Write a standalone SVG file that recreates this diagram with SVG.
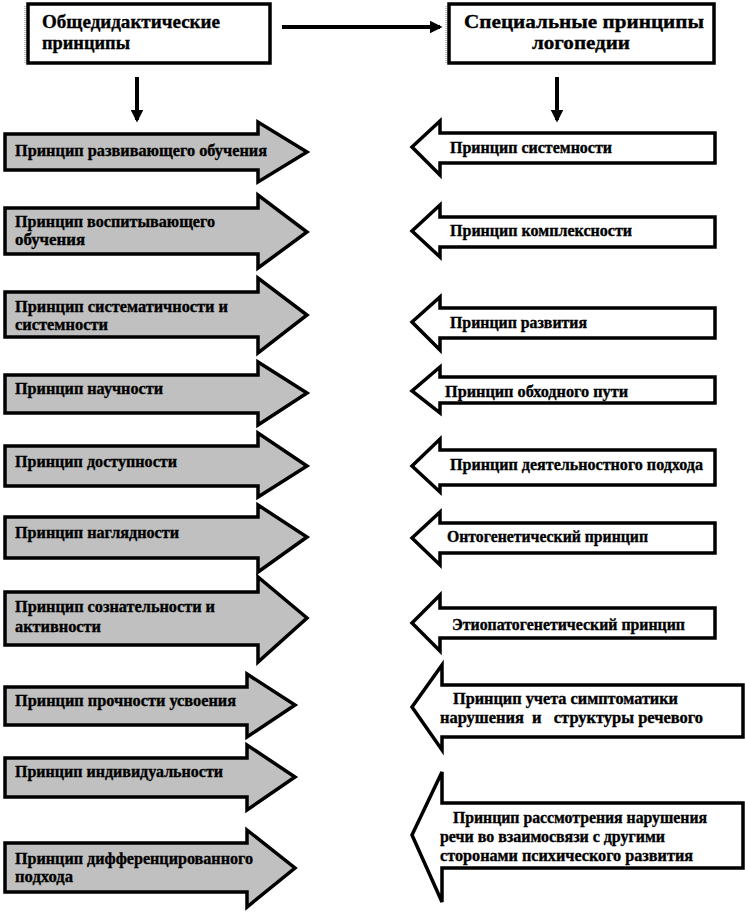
<svg xmlns="http://www.w3.org/2000/svg" width="745" height="913" viewBox="0 0 745 913">
<defs>
<style>
.hdr{fill:#ffffff;stroke:#000000;stroke-width:3.5}
.la{fill:#c0c0c0;stroke:#000000;stroke-width:3.5;stroke-linejoin:miter}
.ra{fill:#ffffff;stroke:#000000;stroke-width:3.5;stroke-linejoin:miter}
.sh{fill:none;stroke:#808080;stroke-width:1;stroke-dasharray:1 1}
text{font-family:"Liberation Serif","Times New Roman",serif;font-weight:bold;fill:#000000;stroke:#000000;stroke-width:0.35}
.t{font-size:16px}
.h{font-size:19px}
.con{stroke:#000000;stroke-width:4;fill:none}
</style>
<marker id="ah" viewBox="0 0 10 10" refX="8" refY="5" markerWidth="3.2" markerHeight="3.2" orient="auto" markerUnits="strokeWidth">
<path d="M0,0 L10,5 L0,10 Z" fill="#000000"/>
</marker>
</defs>
<rect width="745" height="913" fill="#ffffff"/>

<g id="header-left">
<rect class="hdr" x="28" y="4" width="242" height="59"/>
<line class="sh" x1="25" y1="6" x2="25" y2="63"/>
<text class="h" x="42" y="28" textLength="178" lengthAdjust="spacingAndGlyphs">Общедидактические</text>
<text class="h" x="42" y="49" textLength="88" lengthAdjust="spacingAndGlyphs">принципы</text>
</g>
<g id="header-right">
<rect class="hdr" x="449" y="4" width="265" height="59"/>
<line class="sh" x1="446" y1="6" x2="446" y2="63"/>
<text class="h" x="464" y="28" textLength="240" lengthAdjust="spacingAndGlyphs">Специальные принципы</text>
<text class="h" x="532" y="49" textLength="98" lengthAdjust="spacingAndGlyphs">логопедии</text>
</g>

<g id="connectors">
<line class="con" x1="282" y1="27" x2="440" y2="27" marker-end="url(#ah)"/>
<line class="con" x1="137" y1="77" x2="137" y2="120" marker-end="url(#ah)"/>
<line class="con" x1="557" y1="77" x2="557" y2="120" marker-end="url(#ah)"/>
</g>

<g id="l1">
<path class="la" d="M5,134 L258,134 L258,122 L307,152 L258,182 L258,170 L5,170 Z"/>
<text class="t" x="15" y="156" textLength="252" lengthAdjust="spacingAndGlyphs">Принцип развивающего обучения</text>
</g>
<g id="l2">
<path class="la" d="M5,208 L258,208 L258,195 L307,232 L258,268 L258,254 L5,254 Z"/>
<text class="t" x="15" y="227" textLength="200" lengthAdjust="spacingAndGlyphs">Принцип воспитывающего</text>
<text class="t" x="15" y="245" textLength="70" lengthAdjust="spacingAndGlyphs">обучения</text>
</g>
<g id="l3">
<path class="la" d="M5,292 L258,292 L258,278 L307,315 L258,353 L258,337 L5,337 Z"/>
<text class="t" x="15" y="312" textLength="213" lengthAdjust="spacingAndGlyphs">Принцип систематичности и</text>
<text class="t" x="15" y="330" textLength="93" lengthAdjust="spacingAndGlyphs">системности</text>
</g>
<g id="l4">
<path class="la" d="M5,375 L258,375 L258,362 L307,393 L258,425 L258,413 L5,413 Z"/>
<text class="t" x="15" y="394" textLength="148" lengthAdjust="spacingAndGlyphs">Принцип научности</text>
</g>
<g id="l5">
<path class="la" d="M5,446 L258,446 L258,433 L307,466 L258,497 L258,486 L5,486 Z"/>
<text class="t" x="15" y="467" textLength="162" lengthAdjust="spacingAndGlyphs">Принцип доступности</text>
</g>
<g id="l6">
<path class="la" d="M5,517 L258,517 L258,505 L307,537 L258,572 L258,558 L5,558 Z"/>
<text class="t" x="15" y="538" textLength="164" lengthAdjust="spacingAndGlyphs">Принцип наглядности</text>
</g>
<g id="l7">
<path class="la" d="M5,592 L258,592 L258,577 L307,618 L258,662 L258,645 L5,645 Z"/>
<text class="t" x="15" y="612" textLength="200" lengthAdjust="spacingAndGlyphs">Принцип сознательности и</text>
<text class="t" x="15" y="632" textLength="86" lengthAdjust="spacingAndGlyphs">активности</text>
</g>
<g id="l8">
<path class="la" d="M5,687 L247,687 L247,674 L295,705 L247,737 L247,725 L5,725 Z"/>
<text class="t" x="15" y="706" textLength="221" lengthAdjust="spacingAndGlyphs">Принцип прочности усвоения</text>
</g>
<g id="l9">
<path class="la" d="M5,758 L247,758 L247,745 L295,777 L247,810 L247,797 L5,797 Z"/>
<text class="t" x="15" y="777" textLength="208" lengthAdjust="spacingAndGlyphs">Принцип индивидуальности</text>
</g>
<g id="l10">
<path class="la" d="M5,843 L247,843 L247,830 L295,868 L247,907 L247,892 L5,892 Z"/>
<text class="t" x="15" y="864" textLength="238" lengthAdjust="spacingAndGlyphs">Принцип дифференцированного</text>
<text class="t" x="15" y="882" textLength="58" lengthAdjust="spacingAndGlyphs">подхода</text>
</g>

<g id="r1">
<path class="ra" d="M715,133 L440,133 L440,121 L412,147 L440,175 L440,163 L715,163 Z"/>
<text class="t" x="450" y="153" textLength="162" lengthAdjust="spacingAndGlyphs">Принцип системности</text>
</g>
<g id="r2">
<path class="ra" d="M715,217 L440,217 L440,205 L412,231 L440,257 L440,247 L715,247 Z"/>
<text class="t" x="450" y="236" textLength="182" lengthAdjust="spacingAndGlyphs">Принцип комплексности</text>
</g>
<g id="r3">
<path class="ra" d="M715,308 L440,308 L440,297 L412,322 L440,350 L440,338 L715,338 Z"/>
<text class="t" x="450" y="328" textLength="137" lengthAdjust="spacingAndGlyphs">Принцип развития</text>
</g>
<g id="r4">
<path class="ra" d="M715,377 L440,377 L440,367 L412,391 L440,413 L440,403 L715,403 Z"/>
<text class="t" x="445" y="397" textLength="183" lengthAdjust="spacingAndGlyphs">Принцип обходного пути</text>
</g>
<g id="r5">
<path class="ra" d="M715,450 L440,450 L440,439 L412,466 L440,492 L440,485 L715,485 Z"/>
<text class="t" x="450" y="470" textLength="253" lengthAdjust="spacingAndGlyphs">Принцип деятельностного подхода</text>
</g>
<g id="r6">
<path class="ra" d="M715,523 L440,523 L440,512 L412,538 L440,565 L440,553 L715,553 Z"/>
<text class="t" x="447" y="542" textLength="201" lengthAdjust="spacingAndGlyphs">Онтогенетический принцип</text>
</g>
<g id="r7">
<path class="ra" d="M715,608 L440,608 L440,595 L412,623 L440,651 L440,638 L715,638 Z"/>
<text class="t" x="452" y="630" textLength="233" lengthAdjust="spacingAndGlyphs">Этиопатогенетический принцип</text>
</g>
<g id="r8">
<path class="ra" d="M743,685 L442,685 L442,665 L412,707 L442,750 L442,737 L743,737 Z"/>
<text class="t" x="453" y="704" textLength="225" lengthAdjust="spacingAndGlyphs">Принцип учета симптоматики</text>
<text class="t" x="440" y="723" textLength="263" lengthAdjust="spacingAndGlyphs" xml:space="preserve">нарушения  и   структуры речевого</text>
</g>
<g id="r9">
<path class="ra" d="M743,803 L442,803 L442,772 L412,835 L442,902 L442,868 L743,868 Z"/>
<text class="t" x="453" y="823" textLength="254" lengthAdjust="spacingAndGlyphs">Принцип рассмотрения нарушения</text>
<text class="t" x="440" y="842" textLength="225" lengthAdjust="spacingAndGlyphs">речи во взаимосвязи с другими</text>
<text class="t" x="440" y="861" textLength="253" lengthAdjust="spacingAndGlyphs">сторонами психического развития</text>
</g>
</svg>
